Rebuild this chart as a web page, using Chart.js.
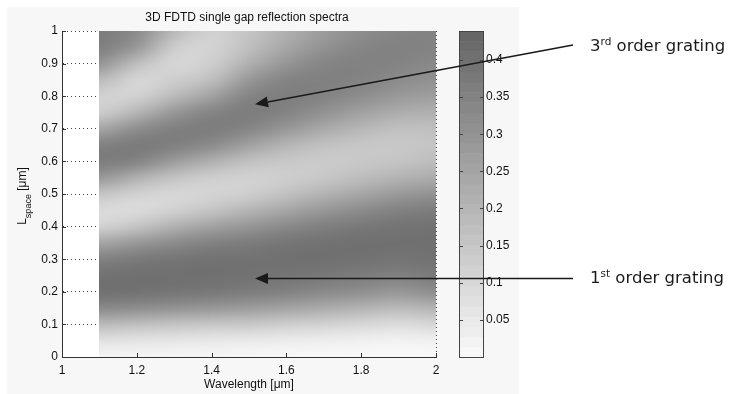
<!DOCTYPE html>
<html>
<head>
<meta charset="utf-8">
<script src="https://cdn.jsdelivr.net/npm/chart.js@4"></script>
<style>
html, body { margin: 0; padding: 0; background: #fff; }
</style>
</head>
<body>
<canvas id="grafica" width="729" height="394"></canvas>
<script>
// wavelength grid [um] and gap length grid [um]
const wavelengths = [1.1, 1.2, 1.3, 1.4, 1.5, 1.6, 1.7, 1.8, 1.9, 2.0];
const lspace = [0, 0.05, 0.1, 0.15, 0.2, 0.25, 0.3, 0.35, 0.4, 0.45, 0.5,
                0.55, 0.6, 0.65, 0.7, 0.75, 0.8, 0.85, 0.9, 0.95, 1.0];
// reflectance, one row per lspace value (bottom to top), one column per wavelength
const reflectance = [
    [0.014, 0.014, 0.012, 0.012, 0.009, 0.006, 0.006, 0.003, 0.003, 0.003],
    [0.072, 0.064, 0.058, 0.052, 0.046, 0.040, 0.035, 0.029, 0.023, 0.030],
    [0.188, 0.173, 0.159, 0.150, 0.145, 0.130, 0.116, 0.101, 0.087, 0.105],
    [0.332, 0.318, 0.303, 0.289, 0.275, 0.254, 0.231, 0.208, 0.188, 0.205],
    [0.405, 0.399, 0.390, 0.381, 0.370, 0.353, 0.332, 0.312, 0.289, 0.318],
    [0.399, 0.405, 0.405, 0.405, 0.399, 0.390, 0.381, 0.370, 0.358, 0.376],
    [0.353, 0.376, 0.390, 0.399, 0.399, 0.405, 0.405, 0.399, 0.393, 0.399],
    [0.246, 0.289, 0.324, 0.353, 0.370, 0.390, 0.399, 0.405, 0.405, 0.405],
    [0.116, 0.159, 0.217, 0.260, 0.295, 0.332, 0.361, 0.381, 0.393, 0.399],
    [0.092, 0.092, 0.121, 0.159, 0.202, 0.246, 0.289, 0.324, 0.353, 0.370],
    [0.159, 0.116, 0.101, 0.110, 0.130, 0.168, 0.208, 0.246, 0.283, 0.303],
    [0.289, 0.217, 0.159, 0.130, 0.116, 0.130, 0.150, 0.179, 0.208, 0.231],
    [0.370, 0.347, 0.275, 0.217, 0.168, 0.145, 0.139, 0.145, 0.159, 0.179],
    [0.353, 0.376, 0.361, 0.324, 0.260, 0.202, 0.168, 0.150, 0.145, 0.159],
    [0.246, 0.318, 0.361, 0.370, 0.341, 0.289, 0.237, 0.197, 0.168, 0.173],
    [0.130, 0.202, 0.289, 0.347, 0.370, 0.347, 0.303, 0.260, 0.225, 0.217],
    [0.116, 0.116, 0.188, 0.260, 0.347, 0.364, 0.347, 0.318, 0.283, 0.266],
    [0.188, 0.101, 0.130, 0.173, 0.289, 0.347, 0.358, 0.347, 0.324, 0.303],
    [0.300, 0.175, 0.101, 0.130, 0.217, 0.295, 0.341, 0.353, 0.347, 0.332],
    [0.362, 0.290, 0.130, 0.110, 0.173, 0.246, 0.303, 0.341, 0.353, 0.347],
    [0.368, 0.330, 0.190, 0.116, 0.159, 0.217, 0.275, 0.318, 0.341, 0.347]
];
const colorMax = 0.439;
const colorSteps = 32;
const notes = [
    { num: '3', sup: 'rd', rest: ' order grating', tip: [1.516, 0.775], tailY: 45, textY: 51 },
    { num: '1', sup: 'st', rest: ' order grating', tip: [1.516, 0.241], tailY: null, textY: 283 }
];

const FONT = '"Liberation Sans", Arial, sans-serif';
const NOTE_FONT = '"DejaVu Sans", Verdana, sans-serif';

function grayOf(v) {
    const t = Math.max(0, Math.min(1, v / colorMax));
    return Math.round(250 - t * 150);
}
const fmt = v => String(+Number(v).toFixed(2));

// small bitmap of the data grid, drawn stretched over the axes with smoothing
const cols = wavelengths.length, rows = lspace.length;
const field = document.createElement('canvas');
field.width = cols;
field.height = rows;
const fctx = field.getContext('2d');
const img = fctx.createImageData(cols, rows);
for (let r = 0; r < rows; r++) {
    for (let c = 0; c < cols; c++) {
        const g = grayOf(reflectance[r][c]);
        const i = ((rows - 1 - r) * cols + c) * 4;
        img.data[i] = g; img.data[i + 1] = g; img.data[i + 2] = g; img.data[i + 3] = 255;
    }
}
fctx.putImageData(img, 0, 0);

const mapaCalor = {
    id: 'mapaCalor',
    beforeDraw(chart) {
        const ctx = chart.ctx, a = chart.chartArea;
        ctx.save();
        ctx.fillStyle = '#fff';
        ctx.fillRect(0, 0, chart.width, chart.height);
        ctx.fillStyle = '#f7f7f7';
        ctx.fillRect(7, 7, 512, chart.height - 7);
        ctx.fillStyle = '#fff';
        ctx.fillRect(a.left, a.top, a.right - a.left, a.bottom - a.top);
        ctx.restore();
    },
    beforeDatasetsDraw(chart) {
        const ctx = chart.ctx, x = chart.scales.x, y = chart.scales.y;
        const x0 = x.getPixelForValue(wavelengths[0]);
        const x1 = x.getPixelForValue(wavelengths[cols - 1]);
        const y0 = y.getPixelForValue(lspace[rows - 1]);
        const y1 = y.getPixelForValue(lspace[0]);
        ctx.save();
        ctx.imageSmoothingEnabled = true;
        ctx.imageSmoothingQuality = 'high';
        ctx.drawImage(field, 0.5, 0.5, cols - 1, rows - 1, x0, y0, x1 - x0, y1 - y0);
        ctx.restore();
    },
    afterDraw(chart) {
        const ctx = chart.ctx, a = chart.chartArea;
        const x = chart.scales.x, y = chart.scales.y, cb = chart.scales.cb;
        ctx.save();

        // inward tick marks
        ctx.strokeStyle = '#333';
        ctx.lineWidth = 1;
        ctx.beginPath();
        x.ticks.forEach(t => {
            const px = Math.round(x.getPixelForValue(t.value)) + 0.5;
            ctx.moveTo(px, a.bottom); ctx.lineTo(px, a.bottom - 4);
        });
        y.ticks.forEach(t => {
            const py = Math.round(y.getPixelForValue(t.value)) + 0.5;
            ctx.moveTo(a.left, py); ctx.lineTo(a.left + 4, py);
        });
        ctx.stroke();

        // colour bar
        const bl = cb.left + 23, bw = 25;
        for (let k = 0; k < colorSteps; k++) {
            const lo = colorMax * k / colorSteps, hi = colorMax * (k + 1) / colorSteps;
            const g = grayOf((lo + hi) / 2);
            const ya = cb.getPixelForValue(hi), yb = cb.getPixelForValue(lo);
            ctx.fillStyle = 'rgb(' + g + ',' + g + ',' + g + ')';
            ctx.fillRect(bl, ya, bw, yb - ya + 0.5);
        }
        ctx.strokeStyle = '#444';
        ctx.strokeRect(bl + 0.5, cb.top + 0.5, bw - 1, cb.bottom - cb.top);
        ctx.beginPath();
        cb.ticks.forEach(t => {
            const py = Math.round(cb.getPixelForValue(t.value)) + 0.5;
            ctx.moveTo(bl, py); ctx.lineTo(bl + 4, py);
            ctx.moveTo(bl + bw, py); ctx.lineTo(bl + bw - 4, py);
        });
        ctx.stroke();

        // title
        ctx.fillStyle = '#111';
        ctx.font = '12px ' + FONT;
        ctx.textAlign = 'center';
        ctx.textBaseline = 'middle';
        ctx.fillText('3D FDTD single gap reflection spectra', (a.left + a.right) / 2 - 2, 18);

        // y axis title with subscript
        ctx.save();
        ctx.translate(22, (a.top + a.bottom) / 2 + 2);
        ctx.rotate(-Math.PI / 2);
        ctx.textAlign = 'left';
        ctx.textBaseline = 'alphabetic';
        ctx.font = '12px ' + FONT;
        const wL = ctx.measureText('L').width;
        const wR = ctx.measureText(' [\u03bcm]').width;
        ctx.font = '9px ' + FONT;
        const wS = ctx.measureText('space').width;
        const sx = -(wL + wS + wR) / 2;
        ctx.font = '12px ' + FONT;
        ctx.fillText('L', sx, 4);
        ctx.font = '9px ' + FONT;
        ctx.fillText('space', sx + wL, 9);
        ctx.font = '12px ' + FONT;
        ctx.fillText(' [\u03bcm]', sx + wL + wS, 4);
        ctx.restore();

        // annotations with arrows
        ctx.strokeStyle = '#1a1a1a';
        ctx.fillStyle = '#1a1a1a';
        ctx.lineWidth = 1.4;
        notes.forEach(n => {
            const tx = x.getPixelForValue(n.tip[0]);
            const ty = y.getPixelForValue(n.tip[1]);
            const sx0 = 573, sy0 = n.tailY === null ? ty : n.tailY;
            const ang = Math.atan2(ty - sy0, tx - sx0);
            const hl = 13, hw = 5.5;
            const bx = tx - hl * Math.cos(ang), by = ty - hl * Math.sin(ang);
            ctx.beginPath();
            ctx.moveTo(sx0, sy0);
            ctx.lineTo(bx, by);
            ctx.stroke();
            ctx.beginPath();
            ctx.moveTo(tx, ty);
            ctx.lineTo(bx + hw * Math.sin(ang), by - hw * Math.cos(ang));
            ctx.lineTo(bx - hw * Math.sin(ang), by + hw * Math.cos(ang));
            ctx.closePath();
            ctx.fill();

            ctx.textAlign = 'left';
            ctx.textBaseline = 'alphabetic';
            let px = 590;
            ctx.font = '16.5px ' + NOTE_FONT;
            ctx.fillText(n.num, px, n.textY);
            px += ctx.measureText(n.num).width;
            ctx.font = '10.5px ' + NOTE_FONT;
            ctx.fillText(n.sup, px, n.textY - 6.5);
            px += ctx.measureText(n.sup).width;
            ctx.font = '16.5px ' + NOTE_FONT;
            ctx.fillText(n.rest, px, n.textY);
        });
        ctx.restore();
    }
};

const grafica = new Chart(document.getElementById('grafica').getContext('2d'), {
    type: 'scatter',
    data: { datasets: [] },
    options: {
        responsive: false,
        animation: false,
        devicePixelRatio: 1,
        layout: { padding: { left: 0, right: 203, top: 31, bottom: 0 } },
        plugins: { legend: { display: false }, tooltip: { enabled: false } },
        scales: {
            x: {
                type: 'linear',
                min: 1, max: 2,
                afterFit: s => { s.height = 37; },
                ticks: { stepSize: 0.2, padding: 6, color: '#111', font: { size: 12, family: FONT }, callback: fmt },
                grid: { color: '#444', drawTicks: false },
                border: { color: '#333', dash: [1, 3] },
                title: {
                    display: true, text: 'Wavelength [\u03bcm]', color: '#111',
                    font: { size: 12, family: FONT }, padding: { top: 0, bottom: 2 }
                }
            },
            y: {
                type: 'linear',
                min: 0, max: 1,
                afterFit: s => { s.width = 62; s.paddingTop = 0; s.paddingBottom = 0; },
                ticks: { stepSize: 0.1, padding: 4, color: '#111', font: { size: 12, family: FONT }, callback: fmt },
                grid: { color: '#444', drawTicks: false },
                border: { color: '#333', dash: [1, 3] }
            },
            cb: {
                type: 'linear',
                position: 'right',
                min: 0, max: colorMax,
                afterFit: s => { s.width = 90; s.paddingTop = 0; s.paddingBottom = 0; },
                afterBuildTicks: s => { s.ticks = s.ticks.filter(t => t.value > 0.001); },
                ticks: { stepSize: 0.05, includeBounds: false, padding: 50, color: '#111', font: { size: 12, family: FONT }, callback: fmt },
                grid: { display: false, drawTicks: false },
                border: { display: false }
            }
        }
    },
    plugins: [mapaCalor]
});
</script>
</body>
</html>
